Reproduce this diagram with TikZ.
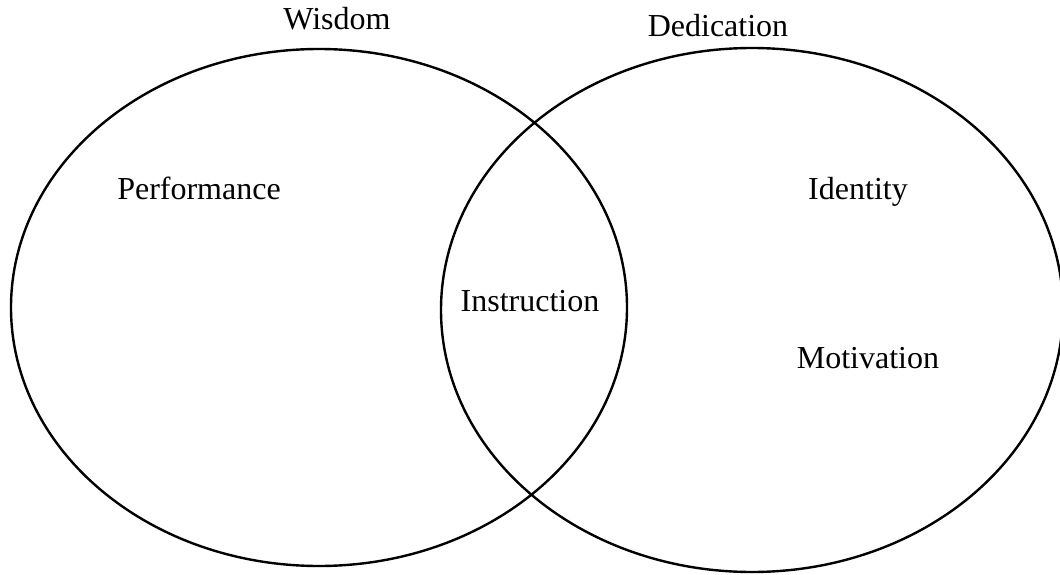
\documentclass[tikz,border=0pt]{standalone}
\usepackage{fontspec}
\setmainfont{Liberation Serif}
\begin{document}
\begin{tikzpicture}[x=1pt,y=-1pt,
  venn/.style={draw=black,line width=2.4pt},
  lbl/.style={font=\fontsize{32}{38}\selectfont,inner sep=0pt,anchor=base}]
\useasboundingbox (0,0) rectangle (1060,575);
\draw[venn] (319,307.5) ellipse [x radius=308, y radius=258.5];
\draw[venn] (752,310) ellipse [x radius=311, y radius=262];
\node[lbl] (wisdom) at (337,30) {Wisdom};
\node[lbl] (dedication) at (718,37) {Dedication};
\node[lbl] (performance) at (199,199) {Performance};
\node[lbl] (identity) at (858,199) {Identity};
\node[lbl] (instruction) at (530,311) {Instruction};
\node[lbl] (motivation) at (868,368) {Motivation};
\end{tikzpicture}
\end{document}
